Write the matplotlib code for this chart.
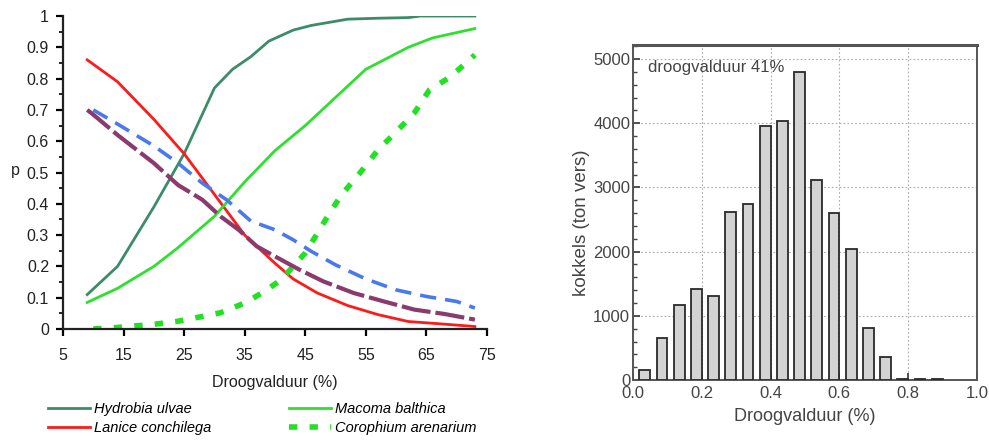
import numpy as np
import matplotlib
matplotlib.use('Agg')
import matplotlib.pyplot as plt
from matplotlib.ticker import MultipleLocator

# ---------------- data, left panel (kans p tegen droogvalduur)
x_hydrobia = [9, 14, 20, 25, 30, 33, 36, 39, 43, 46, 52, 57, 62, 64, 73]
p_hydrobia = [0.11, 0.20, 0.39, 0.56, 0.77, 0.83, 0.87, 0.92, 0.955, 0.97, 0.99, 0.993, 0.995, 1.0, 1.0]

x_macoma = [9, 14, 20, 24, 30, 35, 40, 45, 50, 55, 62, 66, 73]
p_macoma = [0.085, 0.13, 0.20, 0.26, 0.36, 0.47, 0.57, 0.65, 0.74, 0.83, 0.90, 0.93, 0.96]

x_lanice = [9, 14, 20, 25, 30, 35, 40, 43, 47, 52, 57, 62, 67, 73]
p_lanice = [0.86, 0.79, 0.67, 0.56, 0.43, 0.30, 0.21, 0.16, 0.115, 0.075, 0.046, 0.024, 0.017, 0.008]

x_corophium = [10, 14, 17, 20, 24, 28, 31, 35, 38, 41, 43, 45, 47, 49, 51, 54, 57, 60, 63, 65.5, 69, 73]
p_corophium = [0.0, 0.005, 0.01, 0.015, 0.025, 0.04, 0.052, 0.083, 0.117, 0.157, 0.20, 0.243, 0.306, 0.37, 0.429, 0.498, 0.572, 0.63, 0.69, 0.764, 0.806, 0.876]

x_blauw = [10, 14, 20, 24, 28, 32, 36, 40, 43, 46, 50, 55, 60, 65, 70, 73]
p_blauw = [0.70, 0.655, 0.585, 0.53, 0.466, 0.413, 0.345, 0.317, 0.285, 0.248, 0.205, 0.16, 0.125, 0.104, 0.088, 0.067]

x_paars = [9, 10, 14, 20, 24, 28, 31, 34, 37, 40, 44, 48, 53, 58, 63, 68, 73]
p_paars = [0.70, 0.685, 0.62, 0.53, 0.46, 0.413, 0.36, 0.317, 0.264, 0.232, 0.19, 0.152, 0.115, 0.088, 0.062, 0.048, 0.03]

# ---------------- data, right panel (histogram kokkels)
bin_right = [0.05, 0.10, 0.15, 0.20, 0.25, 0.30, 0.35, 0.40, 0.45, 0.50,
             0.55, 0.60, 0.65, 0.70, 0.75, 0.80, 0.85, 0.90]
kokkels = [150, 650, 1170, 1420, 1310, 2625, 2740, 3965, 4040, 4800,
           3120, 2600, 2045, 815, 365, 10, 20, 8]

plt.rcParams['font.family'] = ['Liberation Sans', 'DejaVu Sans']

fig = plt.figure(figsize=(9.89, 4.43), dpi=100)

# ---------------- left panel
ax = fig.add_axes([0.0637, 0.2573, 0.4287, 0.7065])
ax.plot(x_hydrobia, p_hydrobia, color='#3b8c68', lw=2, label='Hydrobia ulvae')
ax.plot(x_lanice, p_lanice, color='#ff1a1a', lw=2, label='Lanice conchilega')
ax.plot(x_macoma, p_macoma, color='#2ee02e', lw=2, label='Macoma balthica')
ax.plot(x_corophium, p_corophium, color='#22e022', lw=4, dashes=(1.5, 2.2),
        label='Corophium arenarium')
ax.plot(x_blauw, p_blauw, color='#4a78ee', lw=2.6, dashes=(4.5, 2.5))
ax.plot(x_paars, p_paars, color='#8a3a6c', lw=3, dashes=(7, 1.2))

ax.set_xlim(5, 75)
ax.set_ylim(0, 1)
ax.set_xticks(np.arange(5, 76, 10))
ax.set_yticks(np.arange(0, 1.01, 0.1))
ax.set_yticklabels(['0', '0.1', '0.2', '0.3', '0.4', '0.5', '0.6', '0.7', '0.8', '0.9', '1'])
ax.yaxis.set_minor_locator(MultipleLocator(0.05))
for s in ['top', 'right']:
    ax.spines[s].set_visible(False)
for s in ['left', 'bottom']:
    ax.spines[s].set_linewidth(1.6)
    ax.spines[s].set_color('#222222')
ax.tick_params(axis='both', which='major', direction='out', length=5, width=1.6,
               labelsize=11.5, labelcolor='#222222')
ax.tick_params(axis='x', which='major', pad=9)
ax.tick_params(axis='y', which='major', pad=5)
ax.tick_params(axis='y', which='minor', direction='out', length=3, width=1.2)
ax.set_xlabel('Droogvalduur (%)', fontsize=11.5, color='#222222', labelpad=8)
ax.set_ylabel('p', fontsize=11.5, color='#222222', rotation=0, ha='center', va='center')
ax.yaxis.set_label_coords(-0.112, 0.508)
ax.patch.set_alpha(0)

handles, labels = ax.get_legend_handles_labels()
fig.legend(handles, labels, loc='upper left', bbox_to_anchor=(0.0485, 0.092),
           ncol=2, frameon=False, prop={'style': 'italic', 'size': 10.5},
           handlelength=2.9, handletextpad=0.27, columnspacing=5.3,
           labelspacing=0.3, borderaxespad=0, borderpad=0)

# ---------------- right panel
ax2 = fig.add_axes([0.640, 0.1422, 0.3478, 0.7562])
left_edges = np.array(bin_right) - 0.031
ax2.bar(left_edges, kokkels, width=0.031, align='edge', color='#d3d3d3',
        edgecolor='#2a2a2a', linewidth=1.3, zorder=3)
ax2.set_xlim(0, 1)
ax2.set_ylim(0, 5220)
ax2.set_xticks(np.arange(0, 1.01, 0.2))
ax2.set_xticklabels(['0.0', '0.2', '0.4', '0.6', '0.8', '1.0'])
ax2.set_yticks(np.arange(0, 5001, 1000))
ax2.yaxis.set_minor_locator(MultipleLocator(200))
ax2.grid(True, which='major', linestyle=(0, (1.5, 2)), color='#aaaaaa', linewidth=0.8, zorder=0)
for s in ax2.spines.values():
    s.set_color('#555555')
    s.set_linewidth(1.4)
ax2.spines['top'].set_linewidth(2.2)
ax2.tick_params(axis='both', which='major', direction='in', length=5, width=1.3,
                labelsize=12, labelcolor='#444444', color='#444444')
ax2.tick_params(axis='x', which='major', pad=4)
ax2.tick_params(axis='y', which='major', pad=2)
ax2.tick_params(axis='y', which='minor', direction='in', length=3, width=1, color='#444444')
ax2.set_xlabel('Droogvalduur (%)', fontsize=13, color='#444444', labelpad=5)
ax2.set_ylabel('kokkels (ton vers)', fontsize=13.5, color='#444444')
ax2.yaxis.set_label_coords(-0.125, 0.47)
ax2.text(0.045, 0.955, 'droogvalduur 41%', transform=ax2.transAxes, fontsize=12,
         color='#444444', va='top', ha='left')

fig.savefig('out.png', dpi=100)
